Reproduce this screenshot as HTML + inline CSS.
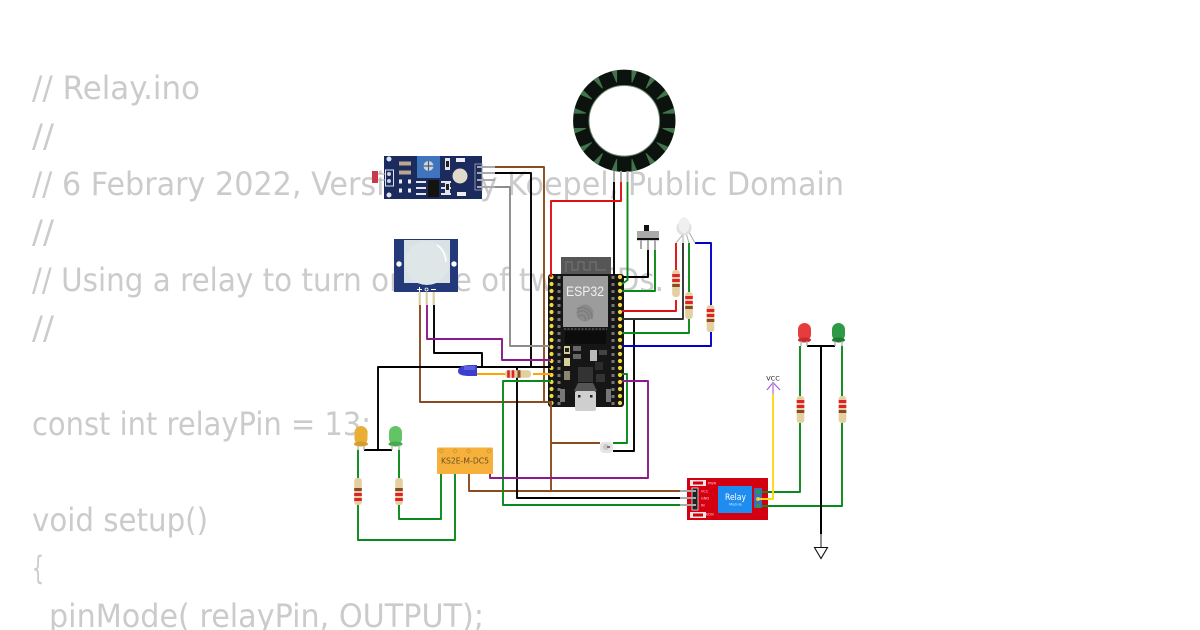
<!DOCTYPE html>
<html><head><meta charset="utf-8"><style>
html,body{margin:0;padding:0;background:#fff;width:1200px;height:630px;overflow:hidden}
svg{display:block}
.t{font-family:"DejaVu Sans","Liberation Sans",sans-serif;font-size:32px;fill:#cbcbcb}
.w{fill:none;stroke-width:1.9;stroke-linejoin:round}
.p{fill:none;stroke:#aaa;stroke-width:2}
</style></head><body>
<svg width="1200" height="630" viewBox="0 0 1200 630" xmlns="http://www.w3.org/2000/svg">
<defs>
<polygon id="wd" points="-0.4,-39 0.4,-39 2.800,-51 -2.800,-51" fill="#41744a"/>
<g id="rv">
<rect x="-3.800" y="0" width="7.600" height="27" rx="3" fill="#e3cfa0"/>
<rect x="-3.800" y="4" width="7.600" height="3" fill="#e0202a"/>
<rect x="-3.800" y="9" width="7.600" height="3" fill="#e0202a"/>
<rect x="-3.800" y="14" width="7.600" height="3" fill="#8a4b20"/>
</g>
</defs>
<rect width="1200" height="630" fill="#fff"/>
<g class="t">
<text x="32" y="99" textLength="168" lengthAdjust="spacingAndGlyphs">// Relay.ino</text>
<text x="32" y="147" textLength="22" lengthAdjust="spacingAndGlyphs">//</text>
<text x="32" y="195" textLength="812" lengthAdjust="spacingAndGlyphs">// 6 Febrary 2022, Version 1 by Koepel, Public Domain</text>
<text x="32" y="243" textLength="22" lengthAdjust="spacingAndGlyphs">//</text>
<text x="32" y="291" textLength="632" lengthAdjust="spacingAndGlyphs">// Using a relay to turn on one of two LEDs.</text>
<text x="32" y="339" textLength="22" lengthAdjust="spacingAndGlyphs">//</text>
<text x="32" y="435" textLength="339" lengthAdjust="spacingAndGlyphs">const int relayPin = 13;</text>
<text x="32" y="531" textLength="176" lengthAdjust="spacingAndGlyphs">void setup()</text>
<text x="32" y="579" textLength="12" lengthAdjust="spacingAndGlyphs">{</text>
<text x="49" y="627" textLength="435" lengthAdjust="spacingAndGlyphs">pinMode( relayPin, OUTPUT);</text>
</g>

<!-- Ring -->
<circle cx="624.300" cy="120.800" r="43.200" fill="none" stroke="#0c130e" stroke-width="16"/>
<circle cx="624.300" cy="120.800" r="35.300" fill="none" stroke="#6d8a70" stroke-width="1"/>
<g transform="translate(624.300 120.800)">
<use href="#wd" transform="rotate(11.25)"/><use href="#wd" transform="rotate(33.75)"/><use href="#wd" transform="rotate(56.25)"/><use href="#wd" transform="rotate(78.75)"/>
<use href="#wd" transform="rotate(101.25)"/><use href="#wd" transform="rotate(123.75)"/><use href="#wd" transform="rotate(146.25)"/><use href="#wd" transform="rotate(168.75)"/>
<use href="#wd" transform="rotate(191.25)"/><use href="#wd" transform="rotate(213.75)"/><use href="#wd" transform="rotate(236.25)"/><use href="#wd" transform="rotate(258.75)"/>
<use href="#wd" transform="rotate(281.25)"/><use href="#wd" transform="rotate(303.75)"/><use href="#wd" transform="rotate(326.25)"/><use href="#wd" transform="rotate(348.75)"/>
</g>
<path class="p" d="M614 171V182M621 171V182M627.500 171V182"/>

<!-- LDR module -->
<rect x="384" y="156" width="98" height="43" fill="#1c2b5e"/>
<rect x="417" y="156" width="23" height="22" fill="#3f75bd"/>
<circle cx="428.500" cy="166" r="5" fill="#d5d5d5"/>
<path d="M428.500 161V171M423.500 166H433.500" stroke="#3f5f8f" stroke-width="1.200"/>
<rect x="372" y="171" width="6" height="12" fill="#c8394a"/>
<path d="M378 174H386M378 180H386" stroke="#aaa" stroke-width="1"/>
<rect x="385.500" y="170" width="8" height="16" fill="none" stroke="#dfe3ee" stroke-width="1"/>
<circle cx="389" cy="174" r="2" fill="#cfd4e0"/><circle cx="389" cy="181" r="2" fill="#cfd4e0"/>
<circle cx="389" cy="159" r="2.500" fill="#dfe3ee"/><circle cx="389" cy="195" r="2.500" fill="#dfe3ee"/>
<path d="M399 163.500H411M399 172.500H411" stroke="#bda58f" stroke-width="4"/>
<path d="M399 181.500H411M399 190.500H411" stroke="#eee" stroke-width="4" stroke-dasharray="3 6"/>
<rect x="428" y="180" width="11" height="17" fill="#14140f"/>
<path d="M416 182H426M416 188H426M416 194H426M441 182H451M441 188H451M441 194H451" stroke="#e4e6ee" stroke-width="2"/>
<rect x="445" y="158" width="5" height="12" fill="#e6e6e6"/><rect x="446" y="161" width="3" height="6" fill="#222"/>
<rect x="445" y="181" width="5" height="12" fill="#e6e6e6"/><rect x="446" y="184" width="3" height="6" fill="#222"/>
<rect x="456" y="158" width="9" height="4" fill="#eee"/><rect x="457" y="192" width="9" height="4" fill="#eee"/>
<circle cx="460" cy="176" r="7.500" fill="#e0d9cc"/>
<rect x="475" y="164" width="7" height="26" fill="none" stroke="#8d93a8" stroke-width="1"/>
<path class="p" d="M477 167H495M477 173H495M477 180H495M477 187H495"/>

<!-- PIR -->
<rect x="394" y="239" width="64" height="53" fill="#24397a"/>
<rect x="404" y="240" width="46" height="43" fill="#d8e2e6"/>
<circle cx="427" cy="263" r="22" fill="#dfe6e8"/>
<path d="M437 245A21 21 0 0 1 446 262" fill="none" stroke="#fff" stroke-width="1.500"/>
<circle cx="399" cy="264" r="2.700" fill="#fff"/><circle cx="454" cy="264" r="2.700" fill="#fff"/>
<path d="M417 289.500H422M419.500 287V292M431 289.500H436" stroke="#fff" stroke-width="1"/>
<circle cx="426.500" cy="289.500" r="1.500" fill="none" stroke="#fff" stroke-width=".8"/>
<path d="M419.700 292V305M426.700 292V305M433.700 292V305" stroke="#d8cfa0" stroke-width="2.200"/>

<!-- ESP32 -->
<rect x="561" y="257" width="50" height="18" fill="#565656"/>
<path d="M566 272V262H572V270H578V262H584V270H590V262H596V270H606" fill="none" stroke="#777" stroke-width="1"/>
<rect x="548" y="274" width="76" height="133" rx="3" fill="#161616"/>
<path d="M559 276V405M613 276V405" stroke="#777" stroke-width="3" stroke-dasharray="3 4"/>
<rect x="563" y="276" width="45" height="51" fill="#9c9c9c"/>
<text x="585" y="296" text-anchor="middle" font-family="Liberation Sans,sans-serif" font-size="13.500" fill="#f0f0f0" textLength="38" lengthAdjust="spacingAndGlyphs">ESP32</text>
<g fill="none" stroke="#7d7d7d" stroke-width="1.500">
<circle cx="585" cy="313" r="8.500" fill="#8b8b8b" stroke="none"/>
<path d="M577 309A10 10 0 0 1 592 319M577 313A7 7 0 0 1 589 319M578 317A4 4 0 0 1 585 321"/>
</g>
<rect x="565" y="331" width="41" height="13" fill="#0c0c0c"/>
<path d="M564 329H607" stroke="#555" stroke-width="1.500" stroke-dasharray="2 1.500"/>
<rect x="564" y="346" width="6" height="8" fill="#d9cf9a"/><rect x="565" y="348" width="4" height="4" fill="#222"/>
<rect x="573" y="346" width="8" height="5" fill="#666"/><rect x="573" y="354" width="8" height="5" fill="#666"/>
<rect x="590" y="350" width="7" height="11" fill="#bbb"/>
<rect x="599" y="350" width="8" height="5" fill="#444"/>
<rect x="564" y="358" width="6" height="8" fill="#d9cf9a"/>
<rect x="564" y="371" width="6" height="9" fill="#8a8670"/>
<rect x="578" y="367" width="15" height="15" fill="#333"/>
<rect x="595" y="362" width="8" height="8" fill="#2c2c2c"/><rect x="596" y="374" width="9" height="8" fill="#333"/>
<rect x="560" y="389" width="5" height="13" fill="#777"/><rect x="606" y="389" width="5" height="13" fill="#777"/>
<rect x="575" y="391" width="21" height="20" rx="2" fill="#cfcfcf"/>
<path d="M574 391L578 383H593L597 391Z" fill="#555"/>
<rect x="578" y="395" width="2.500" height="2.500" fill="#222"/><rect x="590" y="395" width="2.500" height="2.500" fill="#222"/>
<path d="M551.500 277V405M620 277V405" stroke="#f0d93c" stroke-width="4.200" stroke-dasharray="0 7" stroke-linecap="round" fill="none"/>

<!-- Switch -->
<rect x="644" y="225" width="5" height="6" fill="#111"/>
<rect x="637" y="231" width="22" height="8" fill="#aaa"/>
<rect x="637" y="238" width="22" height="2.200" fill="#111"/>
<path class="p" d="M641 240V249M648 240V250M655 240V250"/>

<!-- Wires -->
<g class="w">
<path stroke="#8a4b20" d="M495 167H544V402M420 305V402H551V491M600 443H551M469 472V491H680"/>
<path stroke="#000" d="M495 173H531V367M378 450V367H551M364 450H392M517 367V498H680M434 305V353H482V367M614 182V275M648 250V277H622M634 319V451H613"/>
<path stroke="#8d8d8d" d="M495 187H510V346H549"/>
<path stroke="#e01010" d="M621 182V201H551V277M676 300V311H622M676 243V270"/>
<path stroke="#333" d="M683 243V319H622"/>
<path stroke="#0a8a1a" d="M627.500 182V280L622 284M655 250V291H622M689 243V292M689 318V333H622M622 374H627V443H613M551 381H503V505H680M441 472V519H399V505M455 472V540H358V505M358 450V480M399 450V480M768 492H800V423M800 396V346M768 506H842V423M842 396V346"/>
<path stroke="#0000cc" d="M695 243H711V305M711 332V346H622"/>
<path stroke="#8a1a8e" d="M427 305V339H502V360H551M622 381H648V478H490V472"/>
<path stroke="#ffa500" d="M477 374H505M533 374H551"/>
<path stroke="#ffd91a" d="M773 394V499H758"/>
<path stroke="#000" d="M807 346H835M821 346V534" stroke-width="2"/>
<path stroke="#888" d="M821 534V547"/>
</g>
<path class="p" d="M680 491H690M680 498H690M680 505H690"/>

<!-- RGB LED -->
<path d="M684 233L676 243M683 233V243M686 233L689 243M689 232L695 243" fill="none" stroke="#aaa" stroke-width="1"/>
<circle cx="684" cy="228" r="7.500" fill="#e0e0e0"/>
<ellipse cx="684" cy="225" rx="5.500" ry="8" fill="#f1efef"/>

<!-- Resistors -->
<use href="#rv" transform="translate(676 270)"/>
<use href="#rv" transform="translate(689 292)"/>
<use href="#rv" transform="translate(710.500 305)"/>
<use href="#rv" transform="translate(358 505) scale(1 -1)"/>
<use href="#rv" transform="translate(399 505) scale(1 -1)"/>
<use href="#rv" transform="translate(800.500 396)"/>
<use href="#rv" transform="translate(842.500 396)"/>
<rect x="505" y="370.200" width="26" height="7.600" rx="3" fill="#e3cfa0"/>
<path d="M508.500 370.200V377.800M513 370.200V377.800" stroke="#e0202a" stroke-width="2.600"/><path d="M519 370.200V377.800" stroke="#8a4b20" stroke-width="3"/>

<!-- LEDs -->
<path d="M458 371C458 367 463 365 470 365H477V376H470C463 376 458 375 458 371Z" fill="#3a3fd0"/>
<rect x="464" y="366" width="11" height="4" fill="#7478e8" opacity=".6"/>
<g>
<rect x="354.500" y="426" width="13" height="19" rx="6.500" fill="#e9ae36"/><ellipse cx="361" cy="444" rx="7" ry="2.500" fill="#d89c28"/>
<rect x="389" y="426" width="13" height="19" rx="6.500" fill="#63c466"/><ellipse cx="395.500" cy="444" rx="7" ry="2.500" fill="#46a94e"/>
<rect x="798" y="323" width="13" height="18" rx="6.500" fill="#e63c3c"/><ellipse cx="804.500" cy="340" rx="6.500" ry="2.500" fill="#c92c2c"/>
<rect x="832" y="323" width="13" height="18" rx="6.500" fill="#2f9a45"/><ellipse cx="838.500" cy="340" rx="6.500" ry="2.500" fill="#217a34"/>
</g>
<path d="M358 445V450M364 445V450M392 445V450M399 445V450M801 341V346M807 341V346M835 341V346M842 341V346" stroke="#aaa" stroke-width="1.200"/>

<!-- NeoPixel -->
<rect x="600" y="442" width="13" height="11" rx="4" fill="#e4e4e4"/>
<circle cx="606" cy="447" r="3" fill="#c8c8c8"/><rect x="607" y="446" width="3" height="2" fill="#777"/>

<!-- KS2E relay -->
<rect x="437" y="447.500" width="56" height="26.500" rx="1" fill="#f5b13c"/>
<circle cx="441.500" cy="451" r="1.800" fill="none" stroke="#d69326" stroke-width=".8"/><circle cx="455" cy="451" r="1.800" fill="none" stroke="#d69326" stroke-width=".8"/><circle cx="468.500" cy="451" r="1.800" fill="none" stroke="#d69326" stroke-width=".8"/><circle cx="489" cy="451" r="1.800" fill="none" stroke="#d69326" stroke-width=".8"/>
<text x="465" y="463.500" text-anchor="middle" font-family="DejaVu Sans,sans-serif" font-size="8" fill="#6a4e1e" textLength="48" lengthAdjust="spacingAndGlyphs">KS2E-M-DC5</text>

<!-- Relay module -->
<rect x="687" y="478" width="81" height="42" fill="#d40012"/>
<rect x="690" y="480" width="16" height="6" fill="#f7e4e4"/><rect x="693" y="481.500" width="10" height="3" fill="#d40012"/>
<rect x="690" y="512" width="16" height="6" fill="#f7e4e4"/><rect x="693" y="513.500" width="10" height="3" fill="#d40012"/>
<rect x="692" y="488" width="6" height="22" fill="#222" stroke="#e8e8e8" stroke-width=".8"/>
<path class="p" d="M680 491H696M680 498H696M680 505H696"/>
<rect x="718" y="486" width="34" height="27" fill="#1f8cf0"/>
<text x="735.500" y="500" text-anchor="middle" font-family="DejaVu Sans,sans-serif" font-size="8.500" fill="#fff" textLength="21" lengthAdjust="spacingAndGlyphs">Relay</text>
<text x="735.500" y="505.500" text-anchor="middle" font-family="DejaVu Sans,sans-serif" font-size="3.500" fill="#dcecff">Module</text>
<text x="701" y="492.500" font-family="DejaVu Sans,sans-serif" font-size="3.500" fill="#ffd6d6">VCC</text>
<text x="701" y="499.500" font-family="DejaVu Sans,sans-serif" font-size="3.500" fill="#ffd6d6">GND</text>
<text x="701" y="506.500" font-family="DejaVu Sans,sans-serif" font-size="3.500" fill="#ffd6d6">IN</text>
<text x="708" y="484.500" font-family="DejaVu Sans,sans-serif" font-size="3.500" fill="#ffd6d6">PWR</text>
<text x="704" y="515.500" font-family="DejaVu Sans,sans-serif" font-size="3.500" fill="#ffd6d6">LEDin</text>
<rect x="754" y="488" width="8" height="20" fill="#3b70b8"/>
<circle cx="758" cy="492" r="2" fill="#2e9a4a"/><circle cx="758" cy="499" r="2" fill="#e8c83a"/><circle cx="758" cy="506" r="2" fill="#2e9a4a"/>
<path class="w" stroke="#ffd91a" d="M758 499H773"/>
<path class="w" stroke="#0a8a1a" d="M762 492H768M762 506H768"/>

<!-- VCC -->
<text x="773" y="380.500" text-anchor="middle" font-family="DejaVu Sans,sans-serif" font-size="6.500" fill="#222">VCC</text>
<path d="M767 390L773 382.500L780 390" fill="none" stroke="#a35fd6" stroke-width="1.200"/>
<path d="M773 383V394" stroke="#c79be8" stroke-width="1.800"/>

<!-- GND -->
<polygon points="814.500,547.500 827.500,547.500 821,558.500" fill="#fff" stroke="#111" stroke-width="1.100"/>
</svg>
</body></html>
